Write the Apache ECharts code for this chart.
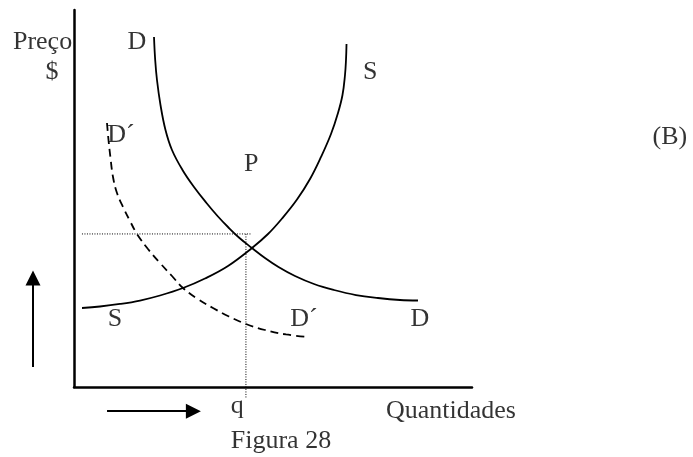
<!DOCTYPE html>
<html><head><meta charset="utf-8">
<script src="https://cdn.jsdelivr.net/npm/echarts@6/dist/echarts.min.js"></script>
<style>html,body{margin:0;padding:0;background:#fff}#c{width:693px;height:457px}</style>
</head><body><div id="c"></div>
<script>
// Demand curve D
const demandQ = [20.10, 20.40, 20.85, 21.73, 22.99, 24.62, 27.26, 30.15, 33.29, 36.06, 38.69, 41.58, 44.72, 47.99, 51.38, 55.53, 60.30, 65.33, 70.85, 76.38, 81.91, 86.43];
const demandP = [92.84, 86.74, 81.43, 74.80, 68.17, 62.86, 57.56, 53.05, 48.81, 45.36, 42.44, 39.52, 36.87, 34.22, 31.83, 29.44, 27.32, 25.73, 24.40, 23.61, 23.08, 22.94];
// Supply curve S
const supplyQ = [2.01, 6.53, 11.56, 16.58, 21.61, 27.39, 32.91, 38.69, 44.72, 48.74, 52.26, 56.03, 59.30, 62.06, 64.57, 66.33, 67.46, 68.09, 68.34, 68.47];
const supplyP = [20.95, 21.35, 22.02, 22.94, 24.27, 26.26, 28.78, 32.10, 36.87, 40.58, 44.69, 49.73, 55.17, 61.01, 67.11, 72.68, 77.45, 82.76, 86.74, 90.98];
// Shifted demand D´ (dashed)
const shiftedQ = [8.29, 8.67, 9.17, 9.80, 10.80, 12.31, 14.07, 15.83, 18.59, 21.61, 24.62, 27.39, 30.90, 34.92, 38.94, 43.22, 47.99, 53.27, 58.79];
const shiftedP = [70.03, 65.52, 60.74, 55.70, 51.46, 47.75, 44.03, 40.58, 36.60, 32.89, 29.44, 26.26, 23.47, 20.95, 18.70, 16.71, 15.12, 13.93, 13.26];
// Dotted guide lines
const guideHQ = [2.0, 44.7];
const guideHP = [40.6, 40.6];
const guideVQ = [43.2, 43.2];
const guideVP = [40.6, -2.9];
// Arrows
const upArrowQ = [-10.3, -10.3];
const upArrowP = [5.3, 28.9];
const rightArrowQ = [8.3, 30.0];
const rightArrowP = [-6.4, -6.4];
// Text labels
const labelText = ['Preço', '$', 'D', 'D´', 'P', 'S', '(B)', 'S', 'D´', 'D', 'q', 'Quantidades', 'Figura 28'];
const labelQ = [-7.9, -5.5, 15.8, 11.8, 44.5, 74.4, 149.7, 10.3, 57.8, 86.9, 41.0, 94.7, 52.0];
const labelP = [91.5, 83.6, 91.5, 66.9, 59.2, 83.6, 66.3, 18.1, 18.1, 18.1, -5.0, -6.3, -14.3];

const zip = (a, b) => a.map((v, i) => [v, b[i]]);
const FONT = 'Liberation Serif';

const chart = echarts.init(document.getElementById('c'), null, {renderer: 'canvas'});
const curve = (name, q, p, extra) => Object.assign({
  name, type: 'line', data: zip(q, p), smooth: 0.4, symbol: 'none', clip: false, silent: true,
  lineStyle: {color: '#000', width: 1.8}
}, extra || {});

chart.setOption({
  animation: false,
  backgroundColor: '#fff',
  grid: {left: 74, right: 221, top: 10, bottom: 70},
  xAxis: {type: 'value', min: 0, max: 100,
    axisLine: {show: true, onZero: false, lineStyle: {color: '#000', width: 2.5}},
    axisTick: {show: false}, axisLabel: {show: false}, splitLine: {show: false}},
  yAxis: {type: 'value', min: 0, max: 100,
    axisLine: {show: true, onZero: false, lineStyle: {color: '#000', width: 2.5}},
    axisTick: {show: false}, axisLabel: {show: false}, splitLine: {show: false}},
  series: [
    curve('D', demandQ, demandP),
    curve('S', supplyQ, supplyP),
    curve('D´', shiftedQ, shiftedP, {lineStyle: {color: '#000', width: 1.8, type: [8, 5]}}),
    curve('guideH', guideHQ, guideHP, {smooth: false, lineStyle: {color: '#000', width: 1, type: [1, 1.5]}}),
    curve('guideV', guideVQ, guideVP, {smooth: false, lineStyle: {color: '#000', width: 1, type: [1, 1.5]}}),
    {
      type: 'lines', coordinateSystem: 'cartesian2d', silent: true, clip: false,
      symbol: ['none', 'triangle'], symbolSize: 15,
      lineStyle: {color: '#000', width: 2, opacity: 1},
      itemStyle: {color: '#000'},
      data: [
        {coords: zip(upArrowQ, upArrowP)},
        {coords: zip(rightArrowQ, rightArrowP)}
      ]
    },
    {
      type: 'scatter', symbolSize: 0, clip: false, silent: true,
      data: labelText.map((t, i) => ({name: t, value: [labelQ[i], labelP[i]]})),
      label: {show: true, position: 'inside', formatter: '{b}', color: '#000',
        fontFamily: FONT, fontSize: 26}
    }
  ]
});
</script>
</body></html>
